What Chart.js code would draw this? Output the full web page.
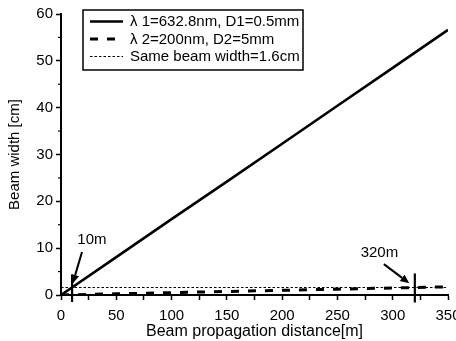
<!DOCTYPE html>
<html>
<head>
<meta charset="utf-8">
<script src="https://cdn.jsdelivr.net/npm/chart.js@4/dist/chart.umd.min.js"></script>
<style>
html,body{margin:0;padding:0;background:#fff;}
#wrap{width:456px;height:341px;position:relative;}
</style>
</head>
<body>
<div id="wrap"><canvas id="c" width="456" height="341"></canvas></div>
<script>
// ---- data ----
const distances = [0, 50, 100, 150, 200, 250, 300, 350];
const width1 = [0, 8.1, 16.2, 24.2, 32.3, 40.4, 48.5, 56.6];      // λ1 = 632.8 nm, D1 = 0.5 mm
const width2 = [0, 0.25, 0.5, 0.75, 1.0, 1.25, 1.5, 1.75];       // λ2 = 200 nm, D2 = 5 mm
const sameWidth = [1.6, 1.6, 1.6, 1.6, 1.6, 1.6, 1.6, 1.6];      // same beam width = 1.6 cm
const seriesLabels = ['λ 1=632.8nm, D1=0.5mm', 'λ 2=200nm, D2=5mm', 'Same beam width=1.6cm'];
const xTicks = [0, 50, 100, 150, 200, 250, 300, 350];
const yTicks = [0, 10, 20, 30, 40, 50, 60];
const markDistances = [10, 320];
const markLabels = ['10m', '320m'];

const FONT = '"Liberation Sans", Arial, sans-serif';

function pts(xs, ys){ return xs.map((x,i)=>({x:x, y:ys[i]})); }

// annotation geometry (in data units)
const markStyle = [
  {labelX: 28, labelY: 11.7, fromX: 19, fromY: 9.2, toX: 10.5, toY: 2.4, lineLow: -1.5, lineHigh: 4.3},
  {labelX: 288, labelY: 9.0, fromX: 292, fromY: 6.6, toX: 315, toY: 2.5, lineLow: -1.6, lineHigh: 4.6}
];

const annotPlugin = {
  id: 'annot',
  afterDatasetsDraw(chart){
    const ctx = chart.ctx, xs = chart.scales.x, ys = chart.scales.y;
    ctx.save();
    // minor y ticks
    ctx.strokeStyle = '#000'; ctx.lineWidth = 1.2;
    for (let v = 5; v < 60; v += 10){
      const py = ys.getPixelForValue(v);
      ctx.beginPath(); ctx.moveTo(xs.left - 3, py); ctx.lineTo(xs.left, py); ctx.stroke();
    }
    markDistances.forEach((d, i) => {
      const s = markStyle[i];
      const px = xs.getPixelForValue(d);
      ctx.strokeStyle = '#000'; ctx.lineWidth = 2.2;
      ctx.beginPath(); ctx.moveTo(px, ys.getPixelForValue(s.lineLow)); ctx.lineTo(px, ys.getPixelForValue(s.lineHigh)); ctx.stroke();
      const x1 = xs.getPixelForValue(s.fromX), y1 = ys.getPixelForValue(s.fromY);
      const x2 = xs.getPixelForValue(s.toX), y2 = ys.getPixelForValue(s.toY);
      const ang = Math.atan2(y2 - y1, x2 - x1);
      const hl = 9, hw = 4;
      const bx = x2 - hl * Math.cos(ang), by = y2 - hl * Math.sin(ang);
      ctx.lineWidth = 2;
      ctx.beginPath(); ctx.moveTo(x1, y1); ctx.lineTo(bx, by); ctx.stroke();
      ctx.fillStyle = '#000';
      ctx.beginPath();
      ctx.moveTo(x2, y2);
      ctx.lineTo(bx + hw * Math.sin(ang), by - hw * Math.cos(ang));
      ctx.lineTo(bx - hw * Math.sin(ang), by + hw * Math.cos(ang));
      ctx.closePath(); ctx.fill();
      ctx.font = '15px ' + FONT; ctx.textAlign = 'center'; ctx.textBaseline = 'middle';
      ctx.fillText(markLabels[i], xs.getPixelForValue(s.labelX), ys.getPixelForValue(s.labelY));
    });
    // legend box
    const lx = chart.chartArea.left + 22, ly = chart.chartArea.top - 4;
    const lw = 220, lh = 60;
    ctx.fillStyle = '#fff'; ctx.fillRect(lx, ly, lw, lh);
    ctx.strokeStyle = '#000'; ctx.lineWidth = 1.5; ctx.setLineDash([]);
    ctx.strokeRect(lx, ly, lw, lh);
    chart.data.datasets.forEach((ds, i) => {
      const ry = ly + 11.5 + i * 17.5;
      ctx.strokeStyle = '#000'; ctx.lineWidth = ds.borderWidth;
      ctx.setLineDash(ds.borderDash || []);
      ctx.beginPath(); ctx.moveTo(lx + 7, ry); ctx.lineTo(lx + 40, ry); ctx.stroke();
      ctx.setLineDash([]);
      ctx.fillStyle = '#000'; ctx.font = '15px ' + FONT; ctx.textAlign = 'left'; ctx.textBaseline = 'middle';
      ctx.fillText(ds.label, lx + 47, ry + 0.5);
    });
    ctx.restore();
  }
};

new Chart(document.getElementById('c'), {
  type: 'line',
  data: {
    datasets: [
      {label: seriesLabels[0], data: pts(distances, width1), borderColor: '#000', borderWidth: 2.6, pointRadius: 0, fill: false},
      {label: seriesLabels[1], data: pts(distances, width2), borderColor: '#000', borderWidth: 3, borderDash: [8, 9], pointRadius: 0, fill: false},
      {label: seriesLabels[2], data: pts(distances, sameWidth), borderColor: '#000', borderWidth: 1.2, borderDash: [2.5, 2], pointRadius: 0, fill: false}
    ]
  },
  options: {
    responsive: false,
    animation: false,
    devicePixelRatio: 1,
    layout: {padding: {top: 14, right: 8, left: 0, bottom: 0}},
    plugins: {legend: {display: false}, tooltip: {enabled: false}},
    scales: {
      x: {
        type: 'linear', min: 0, max: 350,
        afterFit(s){ s.height = 46; s.paddingLeft = 0; s.paddingRight = 0; },
        ticks: {stepSize: 25, color: '#000', font: {family: FONT, size: 15}, padding: 7, maxRotation: 0, autoSkip: false,
          callback: v => xTicks.includes(v) ? String(v) : ''},
        grid: {drawOnChartArea: false, color: '#000', tickLength: 5, tickWidth: 1.5},
        border: {color: '#000', width: 2},
        title: {display: true, text: 'Beam propagation distance[m]', color: '#000', font: {family: FONT, size: 16}, padding: {top: 0, bottom: 0}}
      },
      y: {
        type: 'linear', min: 0, max: 60,
        afterFit(s){ s.width = 61; s.paddingTop = 0; s.paddingBottom = 0; },
        ticks: {stepSize: 10, color: '#000', font: {family: FONT, size: 15}, padding: 3,
          callback: v => yTicks.includes(v) ? String(v) : ''},
        grid: {drawOnChartArea: false, color: '#000', tickLength: 5, tickWidth: 1.5},
        border: {color: '#000', width: 2},
        title: {display: true, text: 'Beam width [cm]', color: '#000', font: {family: FONT, size: 15}, padding: {top: 6, bottom: 0}}
      }
    }
  },
  plugins: [annotPlugin]
});
</script>
</body>
</html>
